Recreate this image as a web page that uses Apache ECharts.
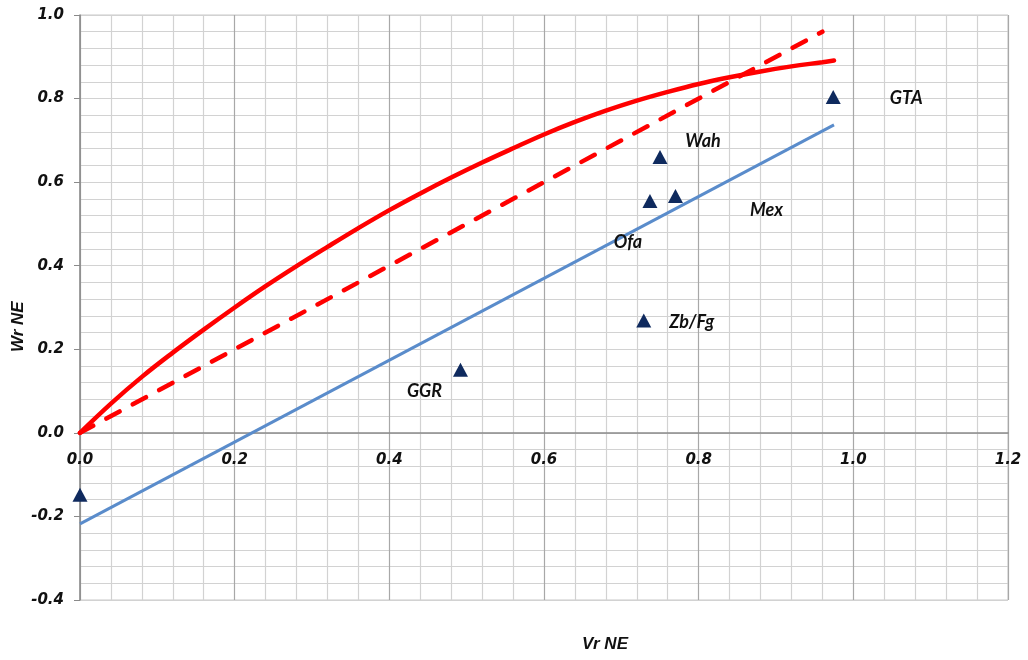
<!DOCTYPE html>
<html>
<head>
<meta charset="utf-8">
<script src="https://cdn.jsdelivr.net/npm/echarts@6/dist/echarts.min.js"></script>
<style>
  html, body { margin: 0; padding: 0; background: #ffffff; }
  #chart { width: 1028px; height: 660px; }
</style>
</head>
<body>
<div id="chart"></div>
<script>
// Observed sites (Vr NE vs Wr NE)
const pointNames = ['', 'GGR', 'Zb/Fg', 'Ofa', 'Wah', 'Mex', 'GTA'];
const pointX = [0.0, 0.492, 0.729, 0.737, 0.750, 0.770, 0.974];
const pointY = [-0.148, 0.151, 0.269, 0.555, 0.660, 0.567, 0.804];

// Saturating curve (solid red)
const curveX = [0, 0.04, 0.08, 0.12, 0.16, 0.20, 0.24, 0.28, 0.32, 0.36, 0.40, 0.44, 0.48,
                0.52, 0.56, 0.60, 0.64, 0.68, 0.72, 0.76, 0.80, 0.84, 0.88, 0.92, 0.96, 0.975];
const curveY = [0, 0.070, 0.134, 0.192, 0.247, 0.300, 0.351, 0.399, 0.445, 0.490, 0.533, 0.573, 0.611,
                0.647, 0.681, 0.714, 0.744, 0.771, 0.795, 0.816, 0.835, 0.851, 0.865, 0.877, 0.887, 0.891];

// 1:1 line (dashed red)
const diagX = [0, 0.96];
const diagY = [0, 0.96];

// Regression line (blue)
const fitX = [0, 0.975];
const fitY = [-0.218, 0.737];

// Axis tick values
const xTicks = [0, 0.2, 0.4, 0.6, 0.8, 1.0, 1.2];
const yTicks = [-0.4, -0.2, 0, 0.2, 0.4, 0.6, 0.8, 1.0];

// Label placement relative to each marker (px)
const labelOffset = {
  'GGR': [-36, 21],
  'Zb/Fg': [48, 2],
  'Ofa': [-22, 41],
  'Wah': [43, -16],
  'Mex': [91, 14],
  'GTA': [73, 1]
};

const zip = (xs, ys) => xs.map((x, i) => [x, ys[i]]);

// Plot box
const W = 1028, H = 660;
const G = { left: 80, right: 20, top: 15, bottom: 60 };
const yMin = yTicks[0], yMax = yTicks[yTicks.length - 1];
const plotH = H - G.top - G.bottom;
// Shift the x axis up so it crosses at y = 0
const xAxisShift = -plotH * (0 - yMin) / (yMax - yMin);

const tickFont = {
  fontFamily: 'DejaVu Sans',
  fontWeight: 'bold',
  fontStyle: 'italic',
  fontSize: 15,
  color: '#111111'
};

const scatterData = pointNames.map((n, i) => {
  const item = { name: n, value: [pointX[i], pointY[i]] };
  if (n) {
    item.label = { show: true, position: 'inside', offset: labelOffset[n], formatter: n };
  }
  return item;
});

const chart = echarts.init(document.getElementById('chart'), null, { renderer: 'canvas' });

chart.setOption({
  animation: false,
  backgroundColor: '#ffffff',
  grid: { left: G.left, right: G.right, top: G.top, bottom: G.bottom, containLabel: false,
          show: true, borderColor: '#c8c8c8', borderWidth: 1 },
  xAxis: {
    type: 'value',
    min: xTicks[0],
    max: xTicks[xTicks.length - 1],
    interval: 0.2,
    offset: xAxisShift,
    axisLine: { show: true, onZero: false, lineStyle: { color: '#8a8a8a', width: 1.5 } },
    axisTick: { show: false },
    axisLabel: Object.assign({ margin: 20, formatter: v => v.toFixed(1) }, tickFont),
    splitLine: { show: true, lineStyle: { color: '#a8a8a8', width: 1.2 } },
    minorTick: { show: false, splitNumber: 5 },
    minorSplitLine: { show: true, lineStyle: { color: '#d2d2d2', width: 1.2 } }
  },
  yAxis: {
    type: 'value',
    min: yMin,
    max: yMax,
    interval: 0.2,
    axisLine: { show: true, onZero: false, lineStyle: { color: '#8a8a8a', width: 1.5 } },
    axisTick: { show: true, length: 6, lineStyle: { color: '#8a8a8a' } },
    axisLabel: Object.assign({ margin: 16, formatter: v => v.toFixed(1) }, tickFont),
    splitLine: { show: true, lineStyle: { color: '#d2d2d2', width: 1.2 } },
    minorTick: { show: false, splitNumber: 5 },
    minorSplitLine: { show: true, lineStyle: { color: '#d2d2d2', width: 1.2 } }
  },
  graphic: [
    {
      type: 'text', left: 582, top: 636,
      style: { text: 'Vr NE', fill: '#111111',
               font: 'italic bold 17px "Liberation Sans"' }
    },
    {
      type: 'text', x: 10, y: 352, rotation: Math.PI / 2,
      style: { text: 'Wr NE', fill: '#111111',
               font: 'italic bold 17px "Liberation Sans"' }
    }
  ],
  series: [
    {
      type: 'line',
      data: zip(fitX, fitY),
      showSymbol: false,
      lineStyle: { color: '#5a8ccb', width: 3 },
      z: 2
    },
    {
      type: 'line',
      data: zip(diagX, diagY),
      showSymbol: false,
      lineStyle: { color: '#ff0000', width: 4.5, type: [15, 15], cap: 'round' },
      z: 3
    },
    {
      type: 'line',
      data: zip(curveX, curveY),
      smooth: 0.4,
      showSymbol: false,
      lineStyle: { color: '#ff0000', width: 4.5, cap: 'round' },
      z: 4
    },
    {
      type: 'scatter',
      data: scatterData,
      symbol: 'triangle',
      symbolSize: [15, 14],
      itemStyle: { color: '#0f2a5e', opacity: 1 },
      label: {
        color: '#111111',
        fontFamily: 'Lato',
        fontWeight: 'bold',
        fontStyle: 'italic',
        fontSize: 18
      },
      z: 5
    }
  ]
});
</script>
</body>
</html>
